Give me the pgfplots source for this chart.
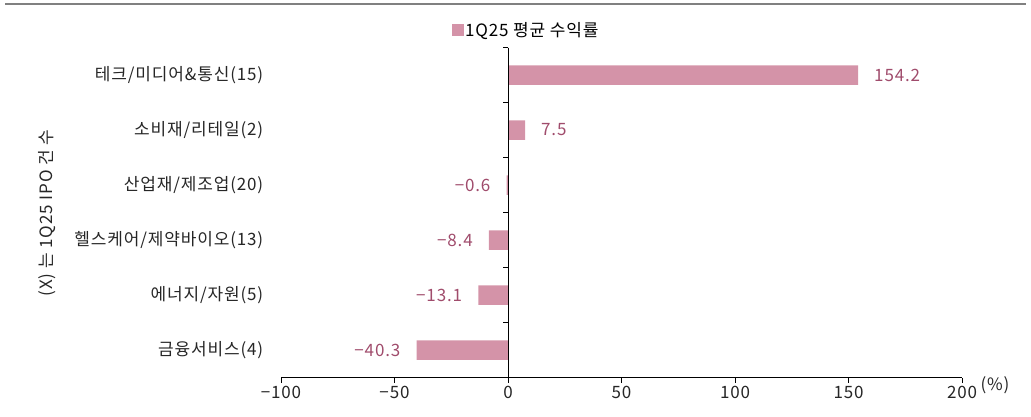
\documentclass[border=0pt]{standalone}
\usepackage{pgfplots}
\pgfplotsset{compat=1.18}
\usepackage{pgfplotstable}
\usepackage{fontspec}
\setmainfont{Noto Sans CJK KR}[LetterSpace=5]
\definecolor{barpink}{HTML}{D493A8}
\definecolor{lblpink}{HTML}{A04C6C}
\definecolor{topgray}{HTML}{808080}
\newcommand{\fs}{\fontsize{17}{19}\selectfont}

\pgfplotstableread{
y x lbl
0 154.2 154.2
1 7.5 7.5
}\postab
\pgfplotstableread{
y x lbl
2 -0.6 −0.6
3 -8.4 −8.4
4 -13.1 −13.1
5 -40.3 −40.3
}\negtab

\begin{document}
\begin{tikzpicture}[x=1pt,y=1pt]
\useasboundingbox (0,0) rectangle (1031,416);
\draw[topgray, line width=2.5pt] (5,412) -- (1026,412);
\begin{axis}[
  at={(281pt,38.5pt)}, anchor=south west,
  scale only axis, width=681pt, height=330pt,
  xmin=-100, xmax=200, ymin=-0.5, ymax=5.5, y dir=reverse,
  axis x line*=bottom, axis y line*=left,
  y axis line style={draw=none},
  x axis line style={black, line width=0.9pt, -},
  xtick={-100,-50,0,50,100,150,200},
  xticklabels={−100,−50,0,50,100,150,200},
  xtick style={black, line width=0.9pt},
  tick align=outside,
  x tick style={/pgfplots/major tick length=5pt},
  ytick={0,1,2,3,4,5},
  yticklabels={테크/미디어\&통신(15),소비재/리테일(2),산업재/제조업(20),헬스케어/제약바이오(13),에너지/자원(5),금융서비스(4)},
  ytick style={draw=none},
  yticklabel style={xshift=-10pt},
  xticklabel style={yshift=-1pt},
  tick label style={font=\fs, text=black!85},
  legend style={draw=none, at={(0.36,1.053)}, anchor=center, font=\fs, inner sep=0pt},
  legend image code/.code={\fill[barpink] (0pt,-5.5pt) rectangle (11pt,5.5pt);},
  clip=false,
]
\addplot[xbar, bar width=19.5pt, bar shift=0pt, fill=barpink, draw=none,
  nodes near coords, point meta=explicit symbolic,
  nodes near coords style={anchor=west, xshift=16pt, inner sep=0pt, text=lblpink, font=\fs},
  forget plot] table[x=x,y=y,meta=lbl]{\postab};
\addplot[xbar, bar width=19.5pt, bar shift=0pt, fill=barpink, draw=none,
  nodes near coords, point meta=explicit symbolic,
  nodes near coords style={anchor=east, xshift=-16pt, inner sep=0pt, text=lblpink, font=\fs},
  forget plot] table[x=x,y=y,meta=lbl]{\negtab};
\addlegendimage{barpink}
\addlegendentry{1Q25 평균 수익률}
\draw[black, line width=0.9pt] (axis cs:0,-0.5) -- (axis cs:0,5.5);
\pgfplotsinvokeforeach{-0.5,0.5,1.5,2.5,3.5,4.5}{
  \draw[black, line width=0.9pt] (axis cs:0,#1) -- ++(-5pt,0pt);
}
\end{axis}
\node[rotate=90, font=\fs, text=black!85] at (47,203) {(X) 는 1Q25 IPO 건 수};
\node[font=\fs, text=black!85] at (995,31) {(\%)};
\end{tikzpicture}
\end{document}
